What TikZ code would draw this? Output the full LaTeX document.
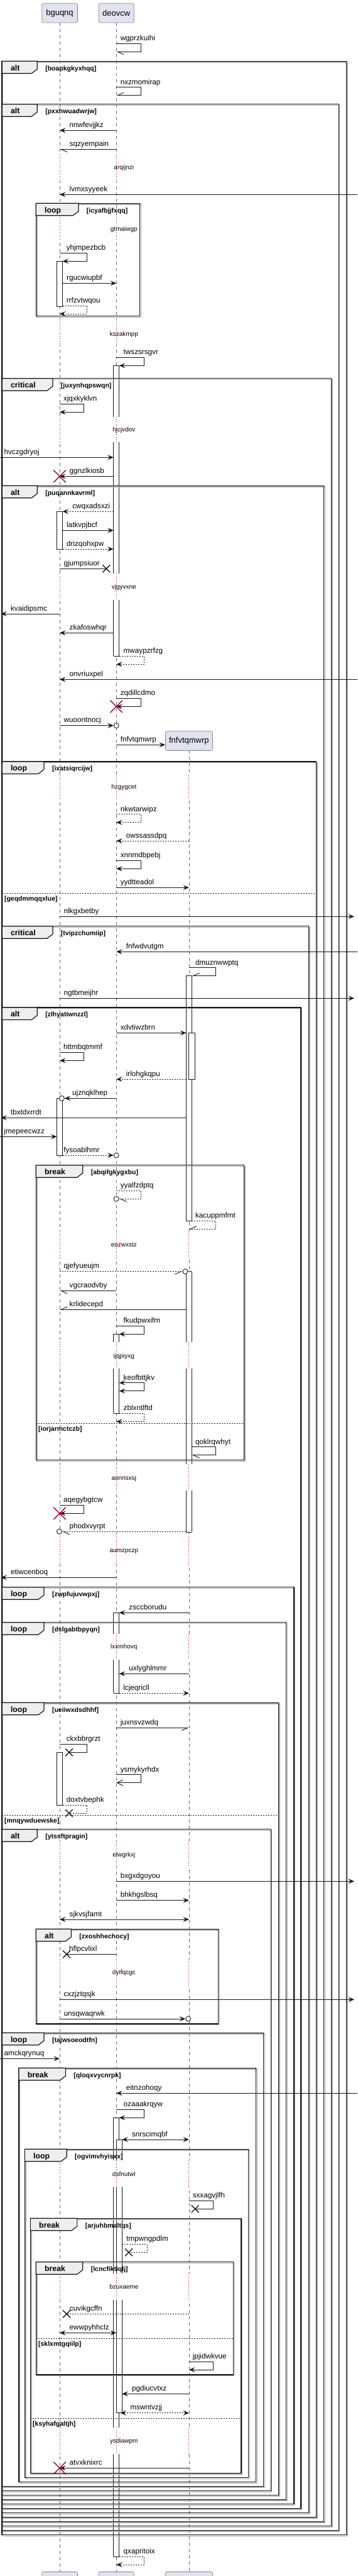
\documentclass[tikz,border=0pt]{standalone}
\usepackage{fontspec}
\setmainfont{Liberation Sans}
\usetikzlibrary{arrows.meta,shapes.misc}
\definecolor{Ink}{HTML}{181818}
\definecolor{Lavender}{HTML}{E2E2F0}
\definecolor{PartEdge}{HTML}{8A8A98}
\definecolor{TabGray}{HTML}{EEEEEE}
\definecolor{Crimson}{HTML}{A80036}
\definecolor{LifeGray}{HTML}{666666}
\definecolor{Shade}{HTML}{A8A8A8}
\newcommand\xB{104.3}
\newcommand\xD{203.3}
\newcommand\xF{330.3}
\newcommand\xR{624.6}
\newcommand\xRt{619.1}
\tikzset{
  partbox/.style={draw=PartEdge,fill=Lavender,rounded corners=2.5pt,line width=0.8pt,minimum height=30.7pt,inner xsep=5pt,font=\fontsize{13}{15}\selectfont},
  lifeline/.style={draw=LifeGray,line width=0.8pt,dash pattern=on 5pt off 5pt},
  delayline/.style={draw=Crimson,line width=0.9pt,dash pattern=on 0.9pt off 2.6pt},
  delaytxt/.style={font=\fontsize{10}{12}\selectfont,inner sep=0pt},
  actline/.style={draw=Ink,line width=0.9pt},
  grpframe/.style={draw=Ink,line width=1.4pt},
  grpshade/.style={draw=Shade,line width=1.3pt},
  grptab/.style={draw=Ink,fill=TabGray,line width=1.2pt},
  grpkey/.style={font=\fontsize{12.3}{14}\selectfont\bfseries,anchor=base west,inner sep=0pt},
  grpcond/.style={font=\fontsize{10.5}{12}\selectfont\bfseries,anchor=base west,inner sep=0pt},
  grpsep/.style={draw=Ink,line width=0.8pt,dash pattern=on 2pt off 2pt},
  lbl/.style={font=\fontsize{11.7}{14}\selectfont,anchor=base west,inner sep=0pt},
  bare/.style={draw=Ink,line width=0.9pt},
  dashedline/.style={dash pattern=on 2pt off 2pt},
  msg/.style={bare,-{Stealth[length=9.5pt,width=8pt,inset=3.8pt]}},
  ret/.style={msg,dashedline},
  twoway/.style={bare,{Stealth[length=9.5pt,width=8pt,inset=3.8pt]}-{Stealth[length=9.5pt,width=8pt,inset=3.8pt]}},
  harp/.style={bare,-{Straight Barb[harpoon,length=10pt,width=9pt]}},
  harpsw/.style={bare,-{Straight Barb[harpoon,swap,length=10pt,width=9pt]}},
  openhead/.style={bare,-{Straight Barb[length=9.5pt,width=9pt]}},
  lostx/.style={cross out,draw=Ink,line width=1.4pt,minimum size=10.5pt,inner sep=0pt},
  killx/.style={cross out,draw=Crimson,line width=1.4pt,minimum size=18pt,inner sep=0pt},
  endo/.style={circle,draw=Ink,line width=0.9pt,fill=white,minimum size=8pt,inner sep=0pt}
}
\newcommand\msgto[5][msg]{%
  \pgfmathsetmacro\lblx{(#3)<(#2) ? (#3)+17 : (#2)+7}%
  \draw[#1] (#2,#4) -- (#3,#4);
  \node[lbl] (#5) at (\lblx,#4-5) {#5};}
\newcommand\selfto[6][msg]{%
  \draw[#1] (#2,#5) -- (#4,#5) -- (#4,#5+13) -- (#3,#5+13);
  \node[lbl] (#6) at (#4-36,#5-4.5) {#6};}
\newcommand\actseg[3]{%
  \fill[white] (#1-5,#2) rectangle (#1+5,#3);
  \draw[actline] (#1-5,#2) -- (#1-5,#3) (#1+5,#2) -- (#1+5,#3);}
\newcommand\actcap[2]{\draw[actline] (#1-5,#2) -- (#1+5,#2);}
\newcommand\actbox[3]{\draw[actline,fill=white] (#1-5,#2) rectangle (#1+5,#3);}
\newcommand\grpbox[7]{%
  \draw[grpshade] (#1+1.7,#3+1.6) rectangle (#2+1.7,#4+1.6);
  \draw[grpframe] (#1,#3) rectangle (#2,#4);
  \draw[grptab] (#1,#3) -- ++(#6,0) -- ++(0,12.5) -- ++(-10,7) -- (#1,#3+19.5) -- cycle;
  \node[grpkey] (k#7) at (#1+15,#3+14.8) {#5};
  \node[grpcond] (#7) at (#1+#6+14,#3+14.8) {[#7]};}
\newcommand\grpelse[4]{%
  \draw[grpsep] (#1,#3) -- (#2,#3);
  \node[grpcond] (#4) at (#1+4,#3+12) {[#4]};}
\newcommand\waitgap[5]{%
  \foreach \lx in {#5}{\fill[white] (\lx-2,#1) rectangle (\lx+2,#2); \draw[delayline] (\lx,#1) -- (\lx,#2);}
  \node[delaytxt] (#4) at (216.6,#3) {#4};}

\begin{document}
\begin{tikzpicture}[x=0.911pt,y=-1pt]
  \useasboundingbox (0,0) rectangle (624.6,4096);
  \draw[lifeline] (\xB,36) -- (\xB,4090);
  \draw[lifeline] (\xD,36) -- (\xD,4090);
  \draw[lifeline] (\xF,1193.3) -- (\xF,4090);

  \waitgap{245}{287}{267.3}{arqijnzi}{\xB,\xD}
  \waitgap{341}{382}{365}{gtmaiwgp}{\xB,\xD}
  \waitgap{506.7}{548.3}{531.7}{kszakmpp}{\xB,\xD}
  \waitgap{663.3}{703.3}{684.3}{hjcjvdov}{\xB,\xD}
  \waitgap{912.3}{954}{934.3}{vjgyvxne}{\xB,\xD}
  \waitgap{1232}{1270}{1252.3}{hzgygcet}{\xB,\xD,\xF}
  \waitgap{1957}{2000}{1979.3}{eozwxstz}{\xB,\xD,\xF}
  \waitgap{2134.3}{2176}{2156.7}{ijqpiyxg}{\xB,\xD,\xF}
  \waitgap{2328}{2370}{2350.7}{aonnsxsj}{\xB,\xD,\xF}
  \waitgap{2438}{2488}{2466.7}{aumzpczp}{\xB,\xD,\xF}
  \waitgap{2597.7}{2639.3}{2619.3}{lxxmhovq}{\xB,\xD,\xF}
  \waitgap{2927}{2968}{2950}{elwgrkxj}{\xB,\xD,\xF}
  \waitgap{3115}{3158.3}{3137.3}{dyifqcgc}{\xB,\xD,\xF}
  \waitgap{3435}{3477.3}{3457.3}{dsfnutwl}{\xB,\xD,\xF}
  \waitgap{3615}{3656.7}{3636.3}{bzuxaeme}{\xB,\xD,\xF}
  \waitgap{3860}{3902.3}{3882.3}{ysdiawpm}{\xB,\xD,\xF}

  \actbox{\xB}{415.3}{487}
  \actseg{\xD}{581.3}{663.3}\actseg{\xD}{703.3}{912.3}\actseg{\xD}{954}{1043.3}
  \actcap{\xD}{581.3}\actcap{\xD}{1043.3}
  \actbox{\xB}{813.3}{873}
  \actbox{\xF}{1551.3}{1941.3}
  \actbox{\xF+5}{1642.3}{1716}
  \actbox{\xB}{1746.3}{1837}
  \actseg{\xF}{2021.7}{2134.3}\actseg{\xF}{2176}{2328}\actseg{\xF}{2370}{2436}
  \actcap{\xF}{2021.7}\actcap{\xF}{2436}
  \actseg{\xD}{2121}{2134.3}\actseg{\xD}{2176}{2247.3}
  \actcap{\xD}{2121}\actcap{\xD}{2247.3}
  \actseg{\xD}{2564.3}{2597.7}\actseg{\xD}{2639.3}{2692.3}
  \actcap{\xD}{2564.3}\actcap{\xD}{2692.3}
  \actbox{\xB}{2786.3}{2870}
  \actseg{\xD}{3367.3}{3435}\actseg{\xD}{3477.3}{3615}\actseg{\xD}{3656.7}{3860}\actseg{\xD}{3902.3}{4065}
  \actcap{\xD}{3367.3}\actcap{\xD}{4065}
  \actseg{\xD+5}{3402}{3435}\actseg{\xD+5}{3477.3}{3615}\actseg{\xD+5}{3656.7}{3836.3}
  \actcap{\xD+5}{3402}\actcap{\xD+5}{3836.3}

  \grpbox{3.5}{605.3}{97.3}{4030.7}{alt}{61.6}{boapkgkyxhqq}
  \grpbox{3.5}{591.9}{165.7}{4023.3}{alt}{61.6}{pxxhwuadwrjw}
  \grpbox{62.9}{244.4}{323.3}{502.7}{loop}{74.3}{icyafbjjfxqq}
  \grpbox{3.5}{578.9}{601.7}{4016.7}{critical}{88.7}{juxynhqpswqn}
  \grpbox{3.5}{566.1}{772.3}{4009.3}{alt}{61.6}{puqannkavrml}
  \grpbox{3.5}{552.7}{1211}{4002.3}{loop}{73.4}{ixatsiqrcijw}
  \grpelse{3.5}{552.7}{1420.3}{geqdmmqqxlue}
  \grpbox{3.5}{539.3}{1472.7}{3995.7}{critical}{88.7}{tvipzchumiip}
  \grpbox{3.5}{525.9}{1602}{3988.3}{alt}{61.6}{zlhyatiwnzzl}
  \grpbox{62.9}{426.3}{1852.7}{2321.7}{break}{81.8}{abqifgkygxbu}
  \grpelse{62.9}{426.3}{2263.3}{iorjarmctczb}
  \grpbox{3.5}{513.5}{2523.7}{3981.7}{loop}{73.4}{zwpfujuvwpxj}
  \grpbox{3.5}{500.2}{2579.7}{3974.3}{loop}{73.4}{dslgabtbpyqn}
  \grpbox{3.5}{486.8}{2707.3}{3967.7}{loop}{73.4}{ueiiwxdsdhhf}
  \grpelse{3.5}{486.8}{2886}{mnqywduewske}
  \grpbox{3.5}{473.4}{2908.7}{3960.7}{alt}{61.6}{ytssftpragin}
  \grpbox{62.9}{381.6}{3067.3}{3218}{alt}{61.6}{zxoshhechocy}
  \grpbox{3.5}{460.6}{3232.3}{3953.3}{loop}{73.4}{tajwsoeodtfn}
  \grpbox{32.9}{447.6}{3288.3}{3946.7}{break}{81.8}{qloqxvycnrpk}
  \grpbox{43.2}{434.3}{3417.3}{3939.7}{loop}{73.4}{ogvimvhyisxx}
  \grpbox{53.1}{421.4}{3527.3}{3932.3}{break}{81.8}{arjuhbmaltqs}
  \grpelse{53.1}{421.4}{3845.3}{ksyhafgaltjh}
  \grpbox{62.9}{408}{3596.7}{3776}{break}{81.8}{lcncfiktiqlj}
  \grpelse{62.9}{408}{3718.3}{sklxmtgqiilp}

  \selfto[harp]{\xD}{\xD}{246.3}{69.3}{wgprzkuihi}
  \selfto[harpsw]{\xD}{\xD}{246.3}{138.7}{nxzmomirap}
  \msgto{\xD}{\xB}{207.3}{nnwfevjjkz}
  \msgto[harp]{\xD}{\xB}{237.3}{sqzyempain}
  \msgto{\xR}{\xB}{309.3}{lvmxsyyeek}
  \selfto{\xB}{\xB+5}{151.9}{402.3}{yhjmpezbcb}
  \msgto{\xB+5}{\xD}{450.3}{rgucwiupbf}
  \selfto[ret]{\xB+5}{\xB}{151.9}{486}{rrfzvtwqou}
  \selfto{\xD}{\xD+5}{251.7}{568.3}{twszsrsgvr}
  \selfto{\xB}{\xB}{146.7}{642.3}{xjqxkyklvn}
  \msgto{0}{\xD-5}{727.3}{hvczgdryoj}
  \msgto{\xD-5}{\xB}{757.3}{ggnzlkiosb}
  \msgto[ret]{\xD-5}{\xB+5}{813.3}{cwqxadsxzi}
  \msgto{\xB+5}{\xD-5}{843.3}{latkvpjbcf}
  \msgto[ret]{\xB+5}{\xD-5}{873}{drizqohxpw}
  \msgto[bare]{\xB}{\xD-17.4}{904.3}{gjumpsiuor}
  \node[lostx] (x1) at (\xD-17.4,904.3) {};
  \msgto{\xB}{1.5}{976}{kvaidipsmc}
  \msgto{\xD-5}{\xB}{1006.3}{zkafoswhqr}
  \selfto[ret]{\xD+5}{\xD}{251.7}{1043.3}{mwaypzrfzg}
  \msgto{\xR}{\xB}{1080.3}{onvriuxpel}
  \selfto{\xD}{\xD}{246.3}{1110.3}{zqdillcdmo}
  \node[endo] (o1) at (\xD,1153.7) {};
  \draw[msg] (\xB,1153.7) -- (o1.west);
  \node[lbl] (wuoontnocj) at (\xB+7,1148.7) {wuoontnocj};
  \node[partbox,minimum width=75pt] (pF) at (\xF,1178) {fnfvtqmwrp};
  \draw[msg] (\xD,1184.3) -- (pF.west |- 0,1184.3);
  \node[lbl] (fnfvtqmwrp) at (\xD+7,1179.3) {fnfvtqmwrp};
  \selfto[ret]{\xD}{\xD}{246.3}{1294.7}{nkwtarwipz}
  \msgto[ret]{\xF}{\xD}{1337}{owssassdpq}
  \selfto{\xD}{\xD}{246.3}{1368.3}{xnnmdbpebj}
  \msgto{\xD}{\xF}{1411.3}{yydtteadol}
  \msgto{\xB}{\xRt}{1457.3}{nlkgxbetby}
  \msgto{\xR}{\xD}{1513.3}{fnfwdvutgm}
  \selfto[harpsw]{\xF}{\xF+5}{377.3}{1538.7}{dmuznwwptq}
  \msgto{\xB}{\xRt}{1587.3}{ngtbmeijhr}
  \msgto{\xD}{\xF-5}{1642.3}{xdvtiwzbrn}
  \selfto{\xB}{\xB}{146.7}{1673.3}{httmbqtmmf}
  \msgto[ret]{\xF-5}{\xD}{1716}{irlohgkqpu}
  \node[endo] (o2) at (\xB+3.7,1746.3) {};
  \draw[msg] (\xD,1746.3) -- (o2.east);
  \node[lbl] (ujznqklhep) at (126.2,1741.3) {ujznqklhep};
  \msgto{\xF-5}{1.5}{1777.3}{tbxtdxrrdt}
  \msgto{0}{\xB-5}{1807.3}{jmepeecwzz}
  \node[endo] (o3) at (\xD,1837) {};
  \draw[ret] (\xB+5,1837) -- (o3.west);
  \node[lbl] (fysoablhmr) at (111,1832) {fysoablhmr};
  \node[endo] (o4) at (\xD,1906.3) {};
  \draw[harp,dashedline] (\xD,1893.3) -- (246.3,1893.3) -- (246.3,1906.3) -- (o4.east);
  \node[lbl] (yyalfzdptq) at (210.3,1888.8) {yyalfzdptq};
  \selfto[harpsw,dashedline]{\xF+5}{\xF}{377.3}{1941.3}{kacuppmfmt}
  \node[endo] (o5) at (\xF-6.5,2021.7) {};
  \draw[harpsw,dashedline] (\xB,2021.7) -- (o5.west);
  \node[lbl] (qjefyueujm) at (\xB+7,2016.7) {qjefyueujm};
  \msgto[harp]{\xD}{\xB}{2052.3}{vgcraodvby}
  \msgto[harpsw]{\xF-5}{\xB}{2082.3}{krlidecepd}
  \selfto{\xD}{\xD+5}{251.7}{2108.3}{fkudpwxifm}
  \selfto[twoway]{\xD+5}{\xD+5}{251.7}{2198.7}{keofbttjkv}
  \selfto[ret]{\xD+5}{\xD}{251.7}{2247.3}{zblxntlftd}
  \selfto[harp]{\xF+5}{\xF+5}{377.3}{2300.7}{qoklrqwhyt}
  \selfto{\xB}{\xB}{146.7}{2393.3}{aqegybgtcw}
  \node[endo] (o6) at (\xB-0.7,2435.3) {};
  \draw[harp,dashedline] (\xF-5,2435.3) -- (o6.east);
  \node[lbl] (phodxvyrpt) at (121.1,2430.3) {phodxvyrpt};
  \msgto{\xD}{1.5}{2508.3}{etiwcenboq}
  \msgto{\xF}{\xD+5}{2564.3}{zsccborudu}
  \msgto{\xF}{\xD+5}{2661.3}{uxlyghlmmr}
  \msgto[ret]{\xD+5}{\xF}{2692.3}{lcjeqricll}
  \msgto[harpsw]{\xD}{\xF}{2747.3}{juxnsvzwdq}
  \selfto[bare]{\xB}{120.7}{151.9}{2773.3}{ckxbbrgrzt}
  \node[lostx] (x2) at (120.7,2786.3) {};
  \selfto[openhead]{\xD}{\xD}{246.3}{2821.7}{ysmykyrhdx}
  \selfto[bare,dashedline]{\xB+5}{120.7}{151.9}{2870}{doxtvbephk}
  \node[lostx] (x3) at (120.7,2883) {};
  \msgto{\xD}{\xRt}{2991.3}{bxgxdgoyou}
  \msgto{\xD}{\xF}{3021.7}{bhkhgslbsq}
  \msgto[twoway]{\xF}{\xB}{3052}{sjkvsjfamt}
  \node[lostx] (x4) at (116.4,3107.3) {};
  \draw[bare] (\xD,3107.3) -- (x4.center);
  \node[lbl] (hflpcvlixl) at (120.7,3102.3) {hflpcvlixl};
  \msgto{\xB}{\xRt}{3179.3}{cxzjztqsjk}
  \node[endo] (o7) at (329,3210) {};
  \draw[msg] (\xB,3210) -- (o7.west);
  \node[lbl] (unsqwaqrwk) at (\xB+7,3205) {unsqwaqrwk};
  \msgto{0}{\xB}{3273.3}{amckqrynuq}
  \msgto{\xR}{\xD}{3328.3}{eitnzohoqy}
  \selfto{\xD}{\xD+5}{251.7}{3354.3}{ozaaakrqyw}
  \msgto[twoway]{\xF}{\xD+10}{3402}{snrscimqbf}
  \selfto[bare]{\xF}{341}{372.5}{3499.3}{sxxagvjlfh}
  \node[lostx] (x5) at (341,3512.3) {};
  \selfto[bare,dashedline]{\xD+10}{225}{256.9}{3568.3}{tmpwngpdlm}
  \node[lostx] (x6) at (225,3581.3) {};
  \node[lostx] (x7) at (116.4,3679.3) {};
  \draw[bare,dashedline] (\xF,3679.3) -- (x7.center);
  \node[lbl] (cuvikgcffn) at (121.5,3674.3) {cuvikgcffn};
  \msgto[twoway]{\xD}{\xB}{3709.3}{ewwpyhhclz}
  \selfto{\xF}{\xF}{372.5}{3755}{jpjidwkvue}
  \msgto{\xF}{\xD+10}{3806.3}{pgdiucvtxz}
  \msgto[twoway,dashedline]{\xF}{\xD+7}{3836.7}{mswntvzjj}
  \msgto{\xF}{\xB}{3924.3}{atvxknixrc}
  \selfto[ret]{\xD+5}{\xD}{251.7}{4065}{qxapritoix}

  \node[killx] (d1) at (\xB,757.3) {};
  \node[killx] (d2) at (\xD,1123.3) {};
  \node[killx] (d3) at (\xB,2406.3) {};
  \node[killx] (d4) at (\xB,3924.3) {};

  \node[partbox,minimum width=56.7pt] (pB) at (\xB,20.65) {bguqnq};
  \node[partbox,minimum width=56pt] (pD) at (\xD,20.65) {deovcw};
  \node[partbox,minimum width=56.7pt] (qB) at (\xB,4104.65) {};
  \node[partbox,minimum width=56pt] (qD) at (\xD,4104.65) {};
  \node[partbox,minimum width=75pt] (qF) at (\xF,4104.65) {};
\end{tikzpicture}
\end{document}
